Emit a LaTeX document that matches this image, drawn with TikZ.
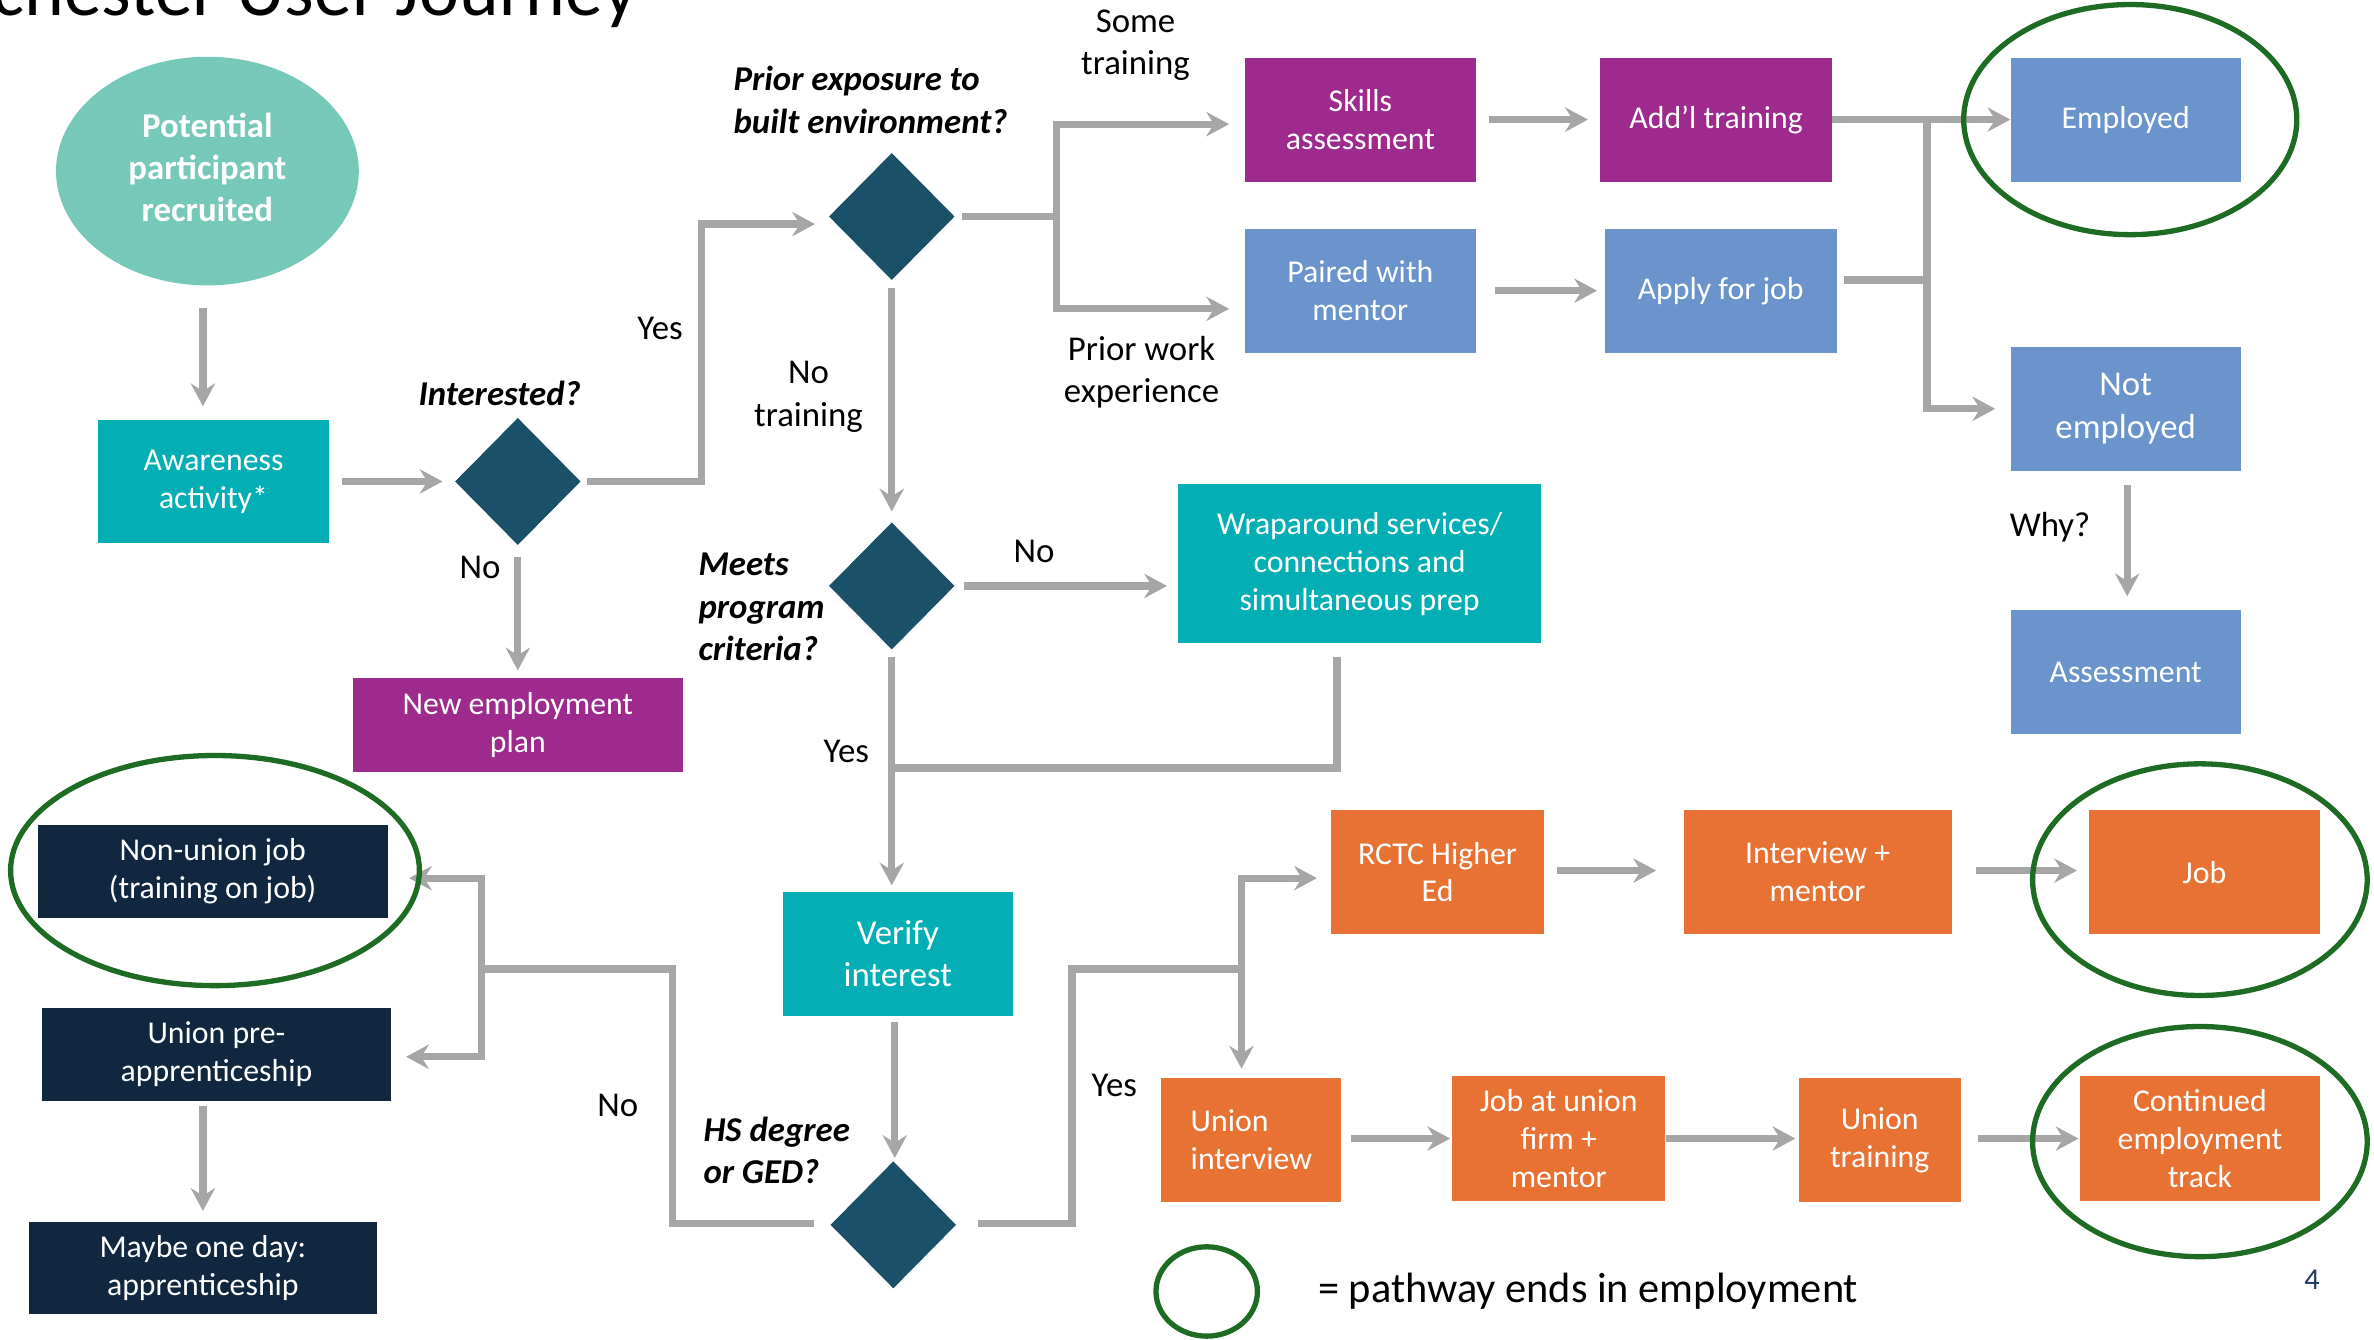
\documentclass[tikz,border=0pt]{standalone}
\usepackage{fontspec}
\setmainfont{Carlito}
\usetikzlibrary{shapes.geometric,arrows.meta,calc}
\definecolor{cmint}{RGB}{118,200,184}
\definecolor{cteal}{RGB}{3,175,180}
\definecolor{cdiam}{RGB}{26,80,104}
\definecolor{cpurple}{RGB}{158,42,142}
\definecolor{cblue}{RGB}{106,148,203}
\definecolor{corange}{RGB}{232,114,52}
\definecolor{cnavy}{RGB}{16,39,63}
\definecolor{cgray}{RGB}{166,166,166}
\definecolor{cgreen}{RGB}{30,107,35}
\definecolor{cpage}{RGB}{31,56,100}
\begin{document}
\begin{tikzpicture}[x=1pt,y=-1pt,
  box/.style={rectangle, inner sep=0pt, text=white, align=center, font=\fontsize{21}{25}\selectfont},
  sz/.style 2 args={minimum width=#1pt, minimum height=#2pt},
  tealbox/.style={box, fill=cteal},
  purplebox/.style={box, fill=cpurple},
  bluebox/.style={box, fill=cblue},
  orangebox/.style={box, fill=corange},
  navybox/.style={box, fill=cnavy},
  diam/.style={diamond, fill=cdiam, minimum width=83pt, minimum height=84pt, inner sep=0pt, aspect=1},
  quest/.style={font=\bfseries\itshape\fontsize{23}{28}\selectfont, align=left, inner sep=0pt},
  lab/.style={font=\fontsize{23}{28}\selectfont, align=center, inner sep=0pt},
  ring/.style={ellipse, draw=cgreen, line width=3.5pt, inner sep=0pt},
  line/.style={draw=cgray, line width=4.8pt},
  arr/.style={draw=cgray, line width=4.8pt, -{Stealth[length=15pt,width=16pt,inset=5pt]}}
]
\useasboundingbox (0,0) rectangle (1568,885);
\clip (0,0) rectangle (1568,885);

% title (cut off by the page edge)
\node[anchor=base east, inner sep=0pt, font=\fontsize{50}{56}\selectfont] (title) at (421,10) {Rochester User Journey};

% nodes
\node[ellipse, fill=cmint, minimum width=200pt, minimum height=151pt, inner sep=0pt, text=white,
      font=\bfseries\fontsize{23}{28}\selectfont] (ell) at (137,113)
      {\raisebox{5pt}{\begin{tabular}{@{}c@{}}Potential\\participant\\recruited\end{tabular}}};
\node[tealbox, sz={152}{81}] (aware) at (141,318) {Awareness\\activity*};
\node[diam] (int) at (342,318) {};
\node[diam] (prior) at (589,143) {};
\node[purplebox, sz={153}{82}] (skills) at (898.5,79) {Skills\\assessment};
\node[purplebox, sz={153}{82}] (addl) at (1133.5,79) {Add’l training};
\node[bluebox, sz={153}{82}] (paired) at (898.5,192) {Paired with\\mentor};
\node[bluebox, sz={153}{82}] (apply) at (1136.5,192) {Apply for job};
\node[bluebox, sz={152}{82}] (employed) at (1404,79) {Employed};
\node[bluebox, sz={152}{82}, font=\fontsize{23}{28}\selectfont] (notemp) at (1404,270) {Not\\employed};
\node[bluebox, sz={152}{82}] (assess) at (1404,444) {Assessment};
\node[purplebox, sz={218}{62}] (newplan) at (342,479) {New employment\\plan};
\node[diam] (meets) at (589,387) {};
\node[tealbox, sz={240}{105}] (wrap) at (898,372.5) {Wraparound services/\\connections and\\simultaneous prep};
\node[tealbox, sz={152}{82}, font=\fontsize{23}{28}\selectfont] (verify) at (593,630) {Verify\\interest};
\node[diam] (hs) at (590,809) {};
\node[navybox, sz={231}{61}] (nonunion) at (140.5,575.5) {Non-union job\\(training on job)};
\node[navybox, sz={230}{61}] (unionpre) at (143,696.5) {Union pre-\\apprenticeship};
\node[navybox, sz={230}{61}] (maybe) at (134,837.5) {Maybe one day:\\apprenticeship};
\node[orangebox, sz={141}{82}] (rctc) at (949.5,576) {RCTC Higher\\Ed};
\node[orangebox, sz={177}{82}] (interview) at (1200.5,576) {Interview +\\mentor};
\node[orangebox, sz={152}{82}] (job) at (1456,576) {Job};
\node[orangebox, sz={119}{82}, align=left] (unionint) at (826.5,753) {Union\\interview};
\node[orangebox, sz={141}{82}] (jobunion) at (1029.5,752) {Job at union\\firm +\\mentor};
\node[orangebox, sz={107}{82}] (uniontrain) at (1241.5,753) {Union\\training};
\node[orangebox, sz={158}{82}] (cont) at (1453,752) {Continued\\employment\\track};

% labels
\node[quest] (qint) at (330,260) {Interested?};
\node[quest] (qprior) at (575,66) {Prior exposure to\\built environment?};
\node[quest] (qmeets) at (503,401) {Meets\\program\\criteria?};
\node[quest] (qhs) at (513,760) {HS degree\\or GED?};
\node[lab] (lyes1) at (436,217) {Yes};
\node[lab] (lno1) at (317,375) {No};
\node[lab] (lsome) at (750,30) {Some\\training};
\node[lab] (lprior) at (754,246) {Prior work\\experience};
\node[lab] (lnotr) at (534,262) {No\\training};
\node[lab] (lno2) at (683,364) {No};
\node[lab] (lyes2) at (559,496) {Yes};
\node[lab] (lno3) at (408,730) {No};
\node[lab] (lyes3) at (736,717) {Yes};
\node[lab] (lwhy) at (1354,348) {Why?};
\node[lab, font=\fontsize{28}{32}\selectfont] (legend) at (1049,853) {= pathway ends in employment};
\node[lab, font=\fontsize{20}{24}\selectfont, text=cpage] (page) at (1527,845) {4};

% connectors
\draw[arr] ($(ell.south)+(-3,15)$) -- ($(aware.north)+(-7,-9)$);
\draw[arr] ($(aware.east)+(9,0)$) -- ($(int.west)+(-8,0)$);
\draw[arr] ($(int.east)+(4,0)$) -| ($(prior.west)+(-84,5)$) -- ($(prior.west)+(-9,5)$);
\draw[arr] ($(int.south)+(0,8)$) -- ($(newplan.north)+(0,-5)$);

\coordinate (j1) at ($(prior.east)+(67,0)$);
\draw[line] ($(prior.east)+(5,0)$) -- (j1);
\draw[arr] (j1) |- ($(skills.west)+(-10,3)$);
\draw[arr] (j1) |- ($(paired.west)+(-10,12)$);
\draw[arr] ($(skills.east)+(8,0)$) -- ($(addl.west)+(-8,0)$);
\draw[arr] ($(paired.east)+(12,0)$) -- ($(apply.west)+(-5,0)$);

\coordinate (j2) at ($(employed.west)+(-55,0)$);
\draw[arr] (addl.east) -- (employed.west);
\draw[line] ($(apply.east)+(5,-7)$) -| (j2);
\draw[arr] (j2) |- ($(notemp.west)+(-10,0)$);
\draw[arr] ($(notemp.south)+(1,9)$) -- ($(assess.north)+(1,-9)$);

\draw[arr] ($(prior.south)+(0,5)$) -- ($(meets.north)+(0,-7)$);
\draw[arr] ($(meets.east)+(6,0)$) -- ($(wrap.west)+(-7,14.5)$);
\draw[arr] ($(meets.south)+(0,5)$) -- ($(verify.north)+(-4,-4)$);
\draw[line] ($(wrap.south)+(-15,9)$) |- ($(meets.south)+(0,78)$);
\draw[arr] ($(verify.south)+(-2,4)$) -- ($(hs.north)+(1,-2)$);

\coordinate (j3) at (318,640);
\draw[line] ($(hs.west)+(-11,-1)$) -| ($(j3)+(126,0)$) -- (j3);
\draw[arr] (j3) |- ($(nonunion.east)+(14,4.5)$);
\draw[arr] (j3) |- ($(unionpre.east)+(10,1.5)$);
\draw[arr] ($(unionpre.south)+(-9,3)$) -- ($(maybe.north)+(0,-7)$);

\coordinate (j4) at (820,640);
\draw[line] ($(hs.east)+(14,-1)$) -| ($(j4)+(-112,0)$) -- (j4);
\draw[arr] (j4) |- ($(rctc.west)+(-9,4)$);
\draw[arr] (j4) -- ($(unionint.north -| j4)+(0,-6)$);
\draw[arr] ($(rctc.east)+(8,-1)$) -- ($(interview.west)+(-18,-1)$);
\draw[arr] ($(interview.east)+(16,-1)$) -- ($(job.west)+(-8,-1)$);
\draw[arr] ($(unionint.east)+(6,-1)$) -- ($(jobunion.west)+(-1,0)$);
\draw[arr] (jobunion.east) -- ($(uniontrain.west)+(-2,-1)$);
\draw[arr] ($(uniontrain.east)+(11,-1)$) -- ($(cont.west)+(-1,0)$);

% rings
\node[ring, minimum width=220pt, minimum height=152pt] (r1) at (1407,79) {};
\node[ring, minimum width=270pt, minimum height=152pt] (r2) at (142,575) {};
\node[ring, minimum width=221pt, minimum height=153pt] (r3) at (1453,581) {};
\node[ring, minimum width=221pt, minimum height=152pt] (r4) at (1453,754) {};
\node[ring, minimum width=67pt, minimum height=59pt] (r5) at (797,853) {};
\end{tikzpicture}
\end{document}
